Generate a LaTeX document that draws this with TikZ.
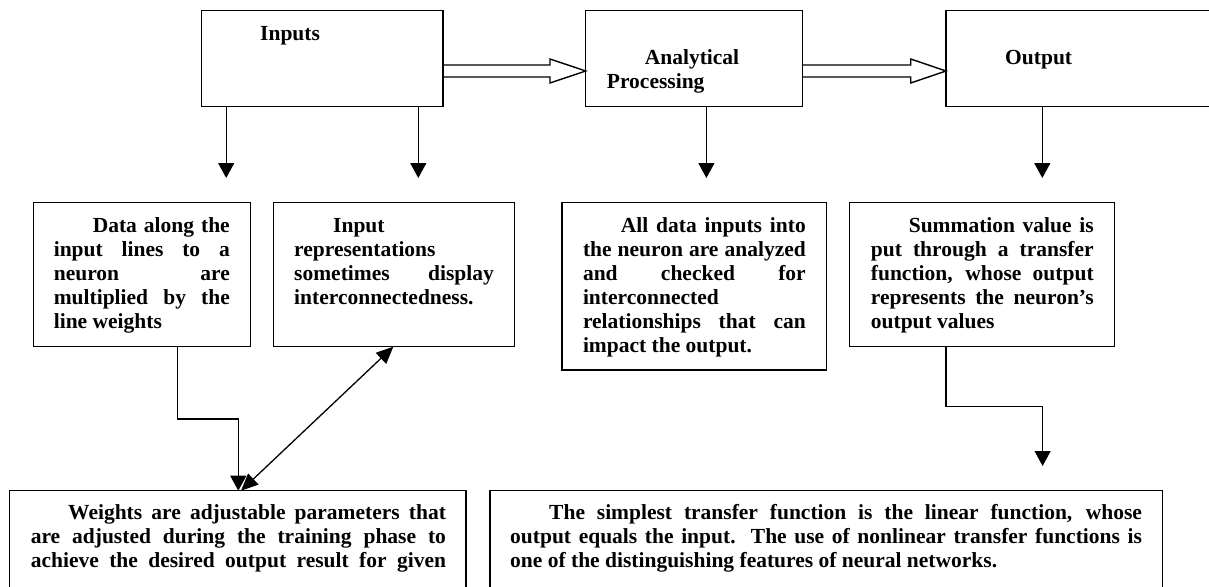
\documentclass[tikz,border=0pt]{standalone}
\usepackage{fontspec}
\setmainfont{Liberation Serif}
\usetikzlibrary{arrows.meta}
\tolerance=9999
\hbadness=10000
\begin{document}
\begin{tikzpicture}[x=1pt,y=-1pt,
  box/.style={draw, line width=1.5pt, inner sep=0pt, outer sep=0pt},
  arr/.style={line width=1.3pt, -{Triangle[length=15pt,width=16pt]}},
  dblarr/.style={line width=1.3pt, {Triangle[length=17pt,width=15pt]}-{Triangle[length=17pt,width=15pt]}},
  block/.style={draw, line width=1.4pt, line join=miter},
  txt/.style={font=\fontsize{21.5}{24}\selectfont\bfseries, inner sep=0pt, anchor=base west, align=justify},
  head/.style={font=\fontsize{21.5}{24}\selectfont\bfseries, inner sep=0pt, anchor=base west, align=left}
]
\useasboundingbox (0,0) rectangle (1209,586);
\clip (0,0) rectangle (1209,586);
\fill[white] (0,0) rectangle (1209,586);

% top boxes
\node[box, minimum width=241.1pt, minimum height=96pt] (inbox) at (322.25,58.7) {};
\node[box, minimum width=216.9pt, minimum height=96pt] (apbox) at (694.15,58.7) {};
\node[box, minimum width=284pt, minimum height=96pt] (outbox) at (1088,58.7) {};

\node[head] (intxt) at (260,40.3) {Inputs};
\node[head, text width=140pt] (aptxt) at (606.7,64.6) {\hspace*{37.9pt}Analytical\\Processing};
\node[head] (outtxt) at (1005,64.4) {Output};

% middle boxes
\node[box, minimum width=217pt, minimum height=144.4pt] (b1) at (142.2,274.5) {};
\node[box, minimum width=241.1pt, minimum height=144.4pt] (b2) at (394.15,274.5) {};
\node[box, minimum width=264.8pt, minimum height=167.7pt] (b3) at (694.2,286.15) {};
\node[box, minimum width=264.8pt, minimum height=144.4pt] (b4) at (982.1,274.5) {};

\node[txt, text width=176pt] (b1txt) at (53.6,232.3) {\hspace*{39pt}Data along the\linebreak input lines to a\linebreak neuron are\linebreak multiplied by the\linebreak line weights};
\node[txt, text width=199.7pt] (b2txt) at (294,232.3) {\hspace*{39pt}Input\newline representations\newline sometimes display\linebreak interconnectedness.};
\node[txt, text width=222.8pt] (b3txt) at (582.8,232.3) {\hspace*{37.8pt}All data inputs into\linebreak the neuron are analyzed\linebreak and checked for\linebreak interconnected\newline relationships that can\linebreak impact the output.};
\node[txt, text width=222.8pt] (b4txt) at (870.7,232.3) {\hspace*{37.9pt}Summation value is\linebreak put through a transfer\linebreak function, whose output\linebreak represents the neuron’s\linebreak output values};

% bottom boxes
\node[box, minimum width=456.4pt, minimum height=119.3pt] (wl) at (237.8,550.35) {};
\node[box, minimum width=672.5pt, minimum height=119.3pt] (wr) at (826.15,550.35) {};

\node[txt, text width=415.2pt] (wltxt) at (30.6,519.5) {\hspace*{37.4pt}Weights are adjustable parameters that\linebreak are adjusted during the training phase to\linebreak achieve the desired output result for given\linebreak\null};
\node[txt, text width=631.8pt] (wrtxt) at (510,519.5) {\hspace*{39pt}The simplest transfer function is the linear function, whose\linebreak output equals the input.\ \ The use of nonlinear transfer functions is\linebreak one of the distinguishing features of neural networks.};

% block arrows
\draw[block] (inbox.east |- 0,65) -- (550,65) -- (550,59) -- (apbox.west |- 0,71) -- (550,83) -- (550,77) -- (inbox.east |- 0,77);
\draw[block] (apbox.east |- 0,65) -- (910.7,65) -- (910.7,59) -- (outbox.west |- 0,71) -- (910.7,83) -- (910.7,77) -- (apbox.east |- 0,77);

% down arrows
\coordinate (d1) at (226.2,178);
\coordinate (d2) at (418.3,178);
\coordinate (d3) at (706.4,178);
\coordinate (d4) at (1042.3,178);
\draw[arr] (inbox.south -| d1) -- (d1);
\draw[arr] (inbox.south -| d2) -- (d2);
\draw[arr] (apbox.south -| d3) -- (d3);
\draw[arr] (outbox.south -| d4) -- (d4);

% box1 to weights
\coordinate (e1) at (177.7,419);
\coordinate (e2) at (238.3,419);
\draw[arr] (b1.south -| e1) -- (e1) -- (e2) -- (wl.north -| e2);

% double arrow weights <-> box2
\coordinate (f1) at (241,488);
\coordinate (f2) at (393.3,346.7);
\draw[dblarr] (wl.north -| f1) -- (b2.south -| f2);

% box4 to transfer
\coordinate (g1) at (946,406.7);
\coordinate (g2) at (1042.6,406.7);
\coordinate (g3) at (1042.6,466);
\draw[arr] (b4.south -| g1) -- (g1) -- (g2) -- (g3);
\end{tikzpicture}
\end{document}
